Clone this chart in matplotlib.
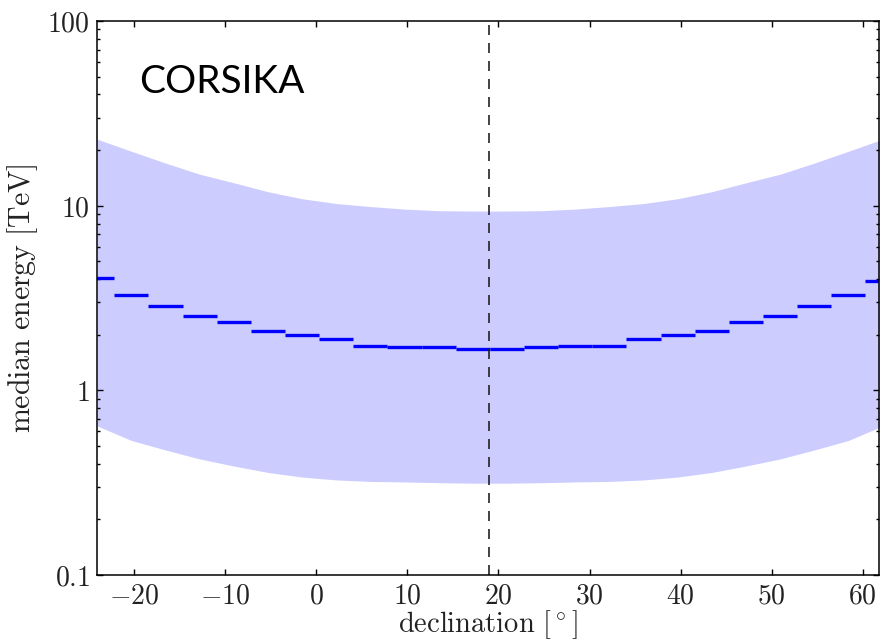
import numpy as np
import matplotlib
matplotlib.use("Agg")
import matplotlib.pyplot as plt
from matplotlib.ticker import FixedLocator, FixedFormatter, LogLocator, NullFormatter, FuncFormatter

plt.rcParams['mathtext.fontset'] = 'cm'

# declination bins (deg)
dec_edges = [-25.94, -22.19, -18.44, -14.69, -10.94, -7.19, -3.44, 0.31,
             4.06, 7.81, 11.56, 15.31, 19.06, 22.81, 26.56, 30.31, 34.06,
             37.81, 41.56, 45.31, 49.06, 52.81, 56.56, 60.31, 64.06]

# median energy per bin [TeV]
median_e = [4.04, 3.28, 2.87, 2.52, 2.34, 2.10, 1.99, 1.89, 1.74, 1.71, 1.71, 1.67,
            1.67, 1.71, 1.74, 1.74, 1.89, 1.99, 2.10, 2.34, 2.52, 2.87, 3.28, 3.93]
median_err = [0.05, 0.04, 0.03, 0.03, 0.03, 0.02, 0.02, 0.02, 0.02, 0.02, 0.02, 0.02,
              0.02, 0.02, 0.02, 0.02, 0.02, 0.02, 0.02, 0.03, 0.03, 0.03, 0.04, 0.05]

# central 68% energy range per bin [TeV]
e_low = [0.641, 0.535, 0.475, 0.425, 0.389, 0.359, 0.339, 0.327, 0.321, 0.319, 0.316, 0.314,
         0.314, 0.316, 0.319, 0.321, 0.327, 0.339, 0.359, 0.389, 0.425, 0.475, 0.535, 0.641]
e_high = [22.9, 19.7, 17.0, 14.8, 13.3, 11.9, 10.9, 10.27, 9.89, 9.58, 9.39, 9.35,
          9.35, 9.39, 9.58, 9.89, 10.27, 10.9, 11.9, 13.3, 14.8, 17.0, 19.7, 22.9]

site_lat = 19.0

edges = np.array(dec_edges)
centers = 0.5 * (edges[:-1] + edges[1:])

fig = plt.figure(figsize=(8.83, 6.4), dpi=100)
ax = fig.add_axes([0.1098, 0.1016, 0.8857, 0.8656])

ax.fill_between(centers, e_low, e_high, color='blue', alpha=0.2, lw=0)
ax.hlines(median_e, edges[:-1], edges[1:], colors='blue', lw=2.4)
ax.errorbar(centers, median_e, yerr=median_err, fmt='none', ecolor='blue', elinewidth=0.8)
ax.axvline(site_lat, color='#222222', lw=1.2, dashes=(6, 4.8))

ax.set_yscale('log')
ax.set_ylim(0.1, 100)
ax.set_xlim(-24.1, 61.8)

ax.yaxis.set_major_locator(FixedLocator([0.1, 1, 10, 100]))
ax.yaxis.set_major_formatter(FixedFormatter([r'$0.1$', r'$1$', r'$10$', r'$100$']))
ax.yaxis.set_minor_locator(LogLocator(base=10, subs=np.arange(2, 10)))
ax.yaxis.set_minor_formatter(NullFormatter())
ax.set_xticks([-20, -10, 0, 10, 20, 30, 40, 50, 60])
ax.xaxis.set_major_formatter(FuncFormatter(lambda v, p: r'$%d$' % v))

ax.tick_params(which='both', direction='in', top=True, right=True, width=1,
               labelsize=20, labelcolor='#222222')
ax.tick_params(which='major', length=4.5, pad=5)
ax.tick_params(which='minor', length=2.5)
for s in ax.spines.values():
    s.set_linewidth(1.1)

ax.set_xlabel(r'$\mathrm{declination}\ [\,^{\circ}\,]$', fontsize=20.5, labelpad=-1,
              color='#222222')
ax.set_ylabel(r'$\mathrm{median\ energy\ [TeV]}$', fontsize=21.5, labelpad=5,
              color='#222222')

ax.text(0.054, 0.870, 'CORSIKA', transform=ax.transAxes, fontsize=28,
        family='Lato', va='baseline', ha='left')

fig.savefig('out.png', dpi=100)
